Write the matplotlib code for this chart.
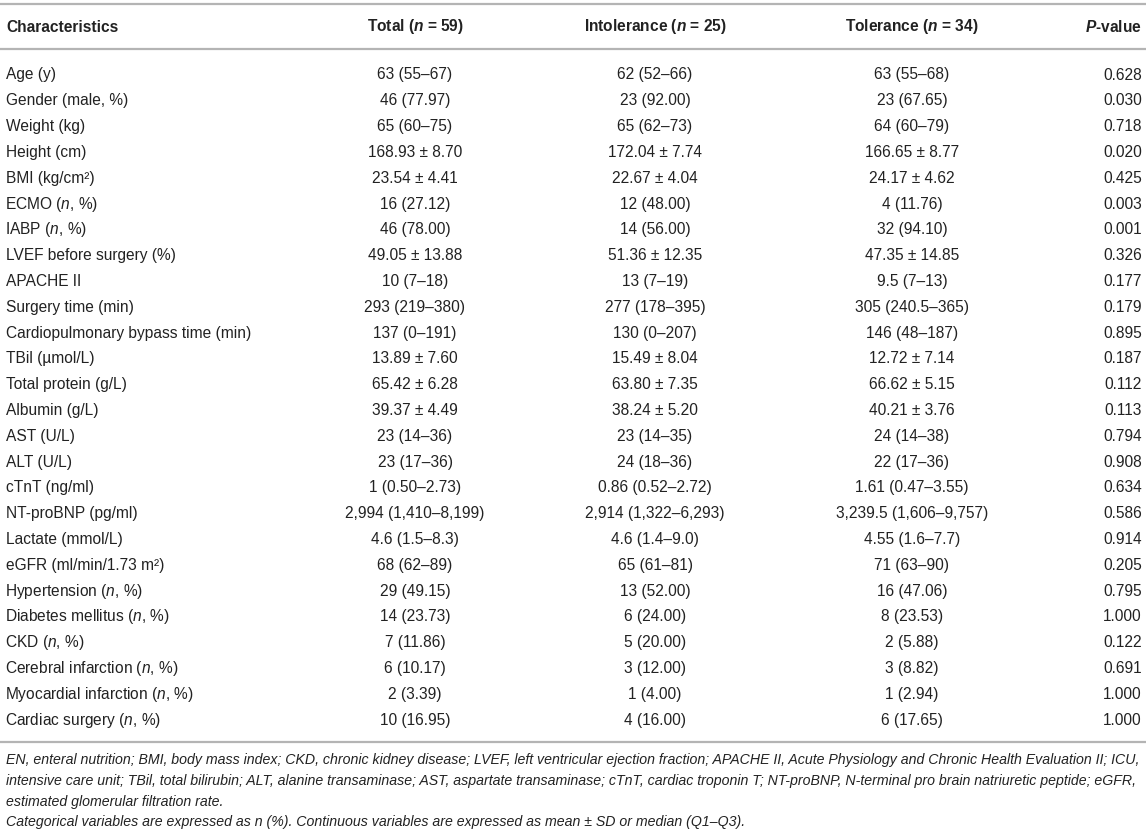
import matplotlib
matplotlib.use("Agg")
import matplotlib.pyplot as plt

# ---------- Table data ----------
characteristics = [
    "Age (y)", "Gender (male, %)", "Weight (kg)", "Height (cm)", "BMI (kg/cm²)",
    "ECMO ($n$, %)", "IABP ($n$, %)", "LVEF before surgery (%)", "APACHE II",
    "Surgery time (min)", "Cardiopulmonary bypass time (min)", "TBil (µmol/L)",
    "Total protein (g/L)", "Albumin (g/L)", "AST (U/L)", "ALT (U/L)", "cTnT (ng/ml)",
    "NT-proBNP (pg/ml)", "Lactate (mmol/L)", "eGFR (ml/min/1.73 m²)",
    "Hypertension ($n$, %)", "Diabetes mellitus ($n$, %)", "CKD ($n$, %)",
    "Cerebral infarction ($n$, %)", "Myocardial infarction ($n$, %)",
    "Cardiac surgery ($n$, %)",
]
total = [
    "63 (55–67)", "46 (77.97)", "65 (60–75)", "168.93 ± 8.70", "23.54 ± 4.41",
    "16 (27.12)", "46 (78.00)", "49.05 ± 13.88", "10 (7–18)", "293 (219–380)",
    "137 (0–191)", "13.89 ± 7.60", "65.42 ± 6.28", "39.37 ± 4.49", "23 (14–36)",
    "23 (17–36)", "1 (0.50–2.73)", "2,994 (1,410–8,199)", "4.6 (1.5–8.3)",
    "68 (62–89)", "29 (49.15)", "14 (23.73)", "7 (11.86)", "6 (10.17)",
    "2 (3.39)", "10 (16.95)",
]
intolerance = [
    "62 (52–66)", "23 (92.00)", "65 (62–73)", "172.04 ± 7.74", "22.67 ± 4.04",
    "12 (48.00)", "14 (56.00)", "51.36 ± 12.35", "13 (7–19)", "277 (178–395)",
    "130 (0–207)", "15.49 ± 8.04", "63.80 ± 7.35", "38.24 ± 5.20", "23 (14–35)",
    "24 (18–36)", "0.86 (0.52–2.72)", "2,914 (1,322–6,293)", "4.6 (1.4–9.0)",
    "65 (61–81)", "13 (52.00)", "6 (24.00)", "5 (20.00)", "3 (12.00)",
    "1 (4.00)", "4 (16.00)",
]
tolerance = [
    "63 (55–68)", "23 (67.65)", "64 (60–79)", "166.65 ± 8.77", "24.17 ± 4.62",
    "4 (11.76)", "32 (94.10)", "47.35 ± 14.85", "9.5 (7–13)", "305 (240.5–365)",
    "146 (48–187)", "12.72 ± 7.14", "66.62 ± 5.15", "40.21 ± 3.76", "24 (14–38)",
    "22 (17–36)", "1.61 (0.47–3.55)", "3,239.5 (1,606–9,757)", "4.55 (1.6–7.7)",
    "71 (63–90)", "16 (47.06)", "8 (23.53)", "2 (5.88)", "3 (8.82)",
    "1 (2.94)", "6 (17.65)",
]
p_values = [
    "0.628", "0.030", "0.718", "0.020", "0.425", "0.003", "0.001", "0.326",
    "0.177", "0.179", "0.895", "0.187", "0.112", "0.113", "0.794", "0.908",
    "0.634", "0.586", "0.914", "0.205", "0.795", "1.000", "0.122", "0.691",
    "1.000", "1.000",
]
headers = ["Characteristics", r"Total ($\mathbfit{n}$ = 59)",
           r"Intolerance ($\mathbfit{n}$ = 25)", r"Tolerance ($\mathbfit{n}$ = 34)",
           r"$\mathbfit{P}$-value"]
footnotes = [
    "EN, enteral nutrition; BMI, body mass index; CKD, chronic kidney disease; LVEF, left ventricular ejection fraction; APACHE II, Acute Physiology and Chronic Health Evaluation II; ICU,",
    "intensive care unit; TBil, total bilirubin; ALT, alanine transaminase; AST, aspartate transaminase; cTnT, cardiac troponin T; NT-proBNP, N-terminal pro brain natriuretic peptide; eGFR,",
    "estimated glomerular filtration rate.",
    "Categorical variables are expressed as n (%). Continuous variables are expressed as mean ± SD or median (Q1–Q3).",
]

# ---------- Style ----------
plt.rcParams["font.family"] = ["Liberation Sans", "DejaVu Sans"]
plt.rcParams["mathtext.fontset"] = "custom"
plt.rcParams["mathtext.rm"] = "Liberation Sans"
plt.rcParams["mathtext.it"] = "Liberation Sans:italic"
plt.rcParams["mathtext.bf"] = "Liberation Sans:bold"
plt.rcParams["mathtext.bfit"] = "Liberation Sans:italic:bold"

W, H = 1146, 838
fig = plt.figure(figsize=(W / 100, H / 100), dpi=100)
ax = fig.add_axes([0, 0, 1, 1])
ax.set_xlim(0, W)
ax.set_ylim(H, 0)
ax.axis("off")

txt = "#222222"
rule = "#b4b4b4"
fs = 11.2

# column anchors
col_x = [6, 415, 655, 912, 1142]
col_ha = ["left", "center", "center", "center", "right"]

# header
y_head = 27
for x, ha, h in zip(col_x, col_ha, headers):
    ax.text(x, y_head, h, ha=ha, va="center", fontsize=fs, fontweight="bold", color=txt)

ax.plot([0, W], [4, 4], color=rule, lw=1.6, solid_capstyle="butt")
ax.plot([0, W], [49, 49], color=rule, lw=1.6, solid_capstyle="butt")

# body rows
y0, dy = 75, 25.8
columns = [characteristics, total, intolerance, tolerance, p_values]
for i in range(len(characteristics)):
    y = y0 + i * dy
    for k, (x, ha, col) in enumerate(zip(col_x, col_ha, columns)):
        s = col[i]
        # mathtext strings sit ~1px right of plain ones
        xx = x - 1 if (k == 0 and "$" in s) else x
        ax.text(xx, y, s, ha=ha, va="center", fontsize=fs, color=txt)

y_last = y0 + (len(characteristics) - 1) * dy
ax.plot([0, W], [y_last + 22, y_last + 22], color=rule, lw=1.6, solid_capstyle="butt")

# footnotes
for j, line in enumerate(footnotes):
    ax.text(6, y_last + 40 + j * 20.8, line, ha="left", va="center", fontsize=10.2,
            fontstyle="italic", color=txt)

fig.savefig("out.png", dpi=100)
